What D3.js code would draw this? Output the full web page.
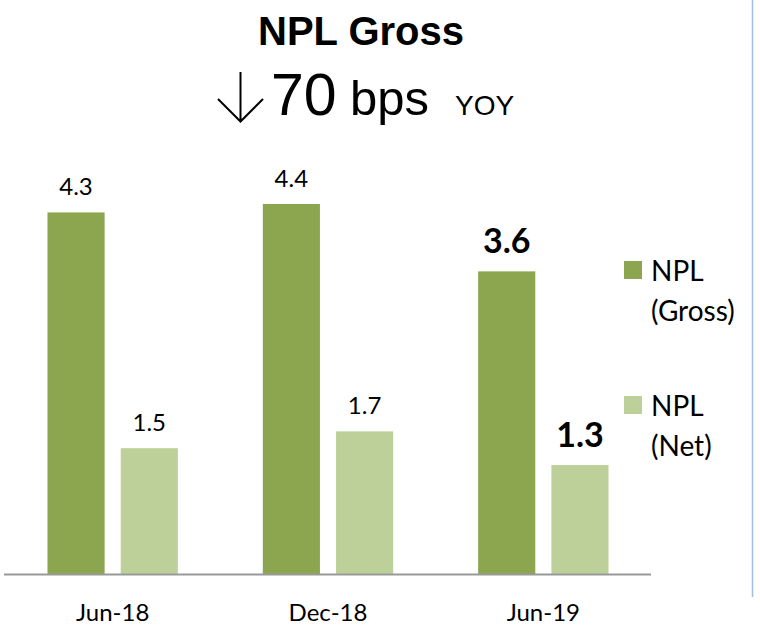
<!DOCTYPE html>
<html>
<head>
<meta charset="utf-8">
<script src="https://cdn.jsdelivr.net/npm/d3@7"></script>
<style>
  body { margin: 0; background: #fff; }
</style>
</head>
<body>
<svg id="chart" width="760" height="627"></svg>
<script>
// Data
const periods = ["Jun-18", "Dec-18", "Jun-19"];
const seriesNames = ["NPL (Gross)", "NPL (Net)"];
const grossValues = [4.3, 4.4, 3.6];
const netValues = [1.5, 1.7, 1.3];
const legendLines = [["NPL", "(Gross)"], ["NPL", "(Net)"]];

const colors = ["#8ba64f", "#bdd09a"];
const labelFont = "Lato, 'Open Sans', sans-serif";

const svg = d3.select("#chart");

const baseY = 574.5;
const x0 = d3.scaleBand().domain(periods).range([5, 651]);
const x1 = d3.scaleBand().domain(seriesNames)
  .range([0, x0.bandwidth()])
  .paddingInner(0.22)
  .paddingOuter(0.58);
const y = d3.scaleLinear().domain([0, 5]).range([baseY, baseY - 421]);

const rows = periods.map((p, i) => ({
  period: p,
  values: [grossValues[i], netValues[i]],
  last: i === periods.length - 1
}));

// Title
svg.append("text")
  .attr("x", 361).attr("y", 45)
  .attr("text-anchor", "middle")
  .style("font-family", "'Liberation Sans', Arial, sans-serif")
  .style("font-weight", "bold")
  .style("font-size", "40px")
  .text("NPL Gross");

// Subtitle: thin down arrow + "70 bps YOY"
const sub = svg.append("g").style("font-family", "'Liberation Sans', Arial, sans-serif");
sub.append("path")
  .attr("d", "M240.5,72V121M218,99L240.5,121.5L263,99")
  .attr("fill", "none")
  .attr("stroke", "#000")
  .attr("stroke-width", 2);
sub.append("text").attr("x", 271).attr("y", 115).style("font-size", "59px").text("70");
sub.append("text").attr("x", 350).attr("y", 115).style("font-size", "49px").text("bps");
sub.append("text").attr("x", 455).attr("y", 115).style("font-size", "28px").text("YOY");

// Bars
const groups = svg.append("g")
  .selectAll("g")
  .data(rows)
  .join("g")
  .attr("transform", d => `translate(${x0(d.period)},0)`);

groups.selectAll("rect")
  .data(d => d.values.map((v, j) => ({ key: seriesNames[j], value: v, j })))
  .join("rect")
  .attr("x", d => x1(d.key))
  .attr("width", x1.bandwidth())
  .attr("y", d => y(d.value))
  .attr("height", d => baseY - y(d.value))
  .attr("fill", d => colors[d.j]);

// Value labels
groups.selectAll("text")
  .data(d => d.values.map((v, j) => ({ key: seriesNames[j], value: v, j, last: d.last })))
  .join("text")
  .attr("x", d => x1(d.key) + x1.bandwidth() / 2)
  .attr("y", d => y(d.value) - (d.last ? 18 : 17))
  .attr("text-anchor", "middle")
  .style("font-family", labelFont)
  .style("font-size", d => d.last ? "34px" : "24px")
  .style("font-weight", d => d.last ? "bold" : "normal")
  .style("fill", "#000")
  .text(d => d.value.toFixed(1));

// Axis
const xAxis = svg.append("g")
  .attr("transform", `translate(0,${baseY})`)
  .call(d3.axisBottom(x0).tickSize(0).tickPadding(29));
xAxis.select(".domain").attr("stroke", "#999").attr("stroke-width", 2).attr("d", "M4,0H651");
xAxis.selectAll("text")
  .style("font-family", labelFont)
  .style("font-size", "24px")
  .style("fill", "#000");

// Legend
const legend = svg.append("g")
  .selectAll("g")
  .data(seriesNames)
  .join("g")
  .attr("transform", (d, i) => `translate(624,${261 + i * 135})`);
legend.append("rect")
  .attr("width", 18).attr("height", 18)
  .attr("fill", (d, i) => colors[i]);
legend.append("text")
  .style("font-family", labelFont)
  .style("font-size", "28px")
  .selectAll("tspan")
  .data((d, i) => legendLines[i])
  .join("tspan")
  .attr("x", 27)
  .attr("y", (d, k) => 20 + k * 40)
  .text(d => d);

// Right border line
svg.append("line")
  .attr("x1", 752.5).attr("x2", 752.5)
  .attr("y1", 0).attr("y2", 597)
  .attr("stroke", "#9dbfe6")
  .attr("stroke-width", 1.5);
</script>
</body>
</html>
